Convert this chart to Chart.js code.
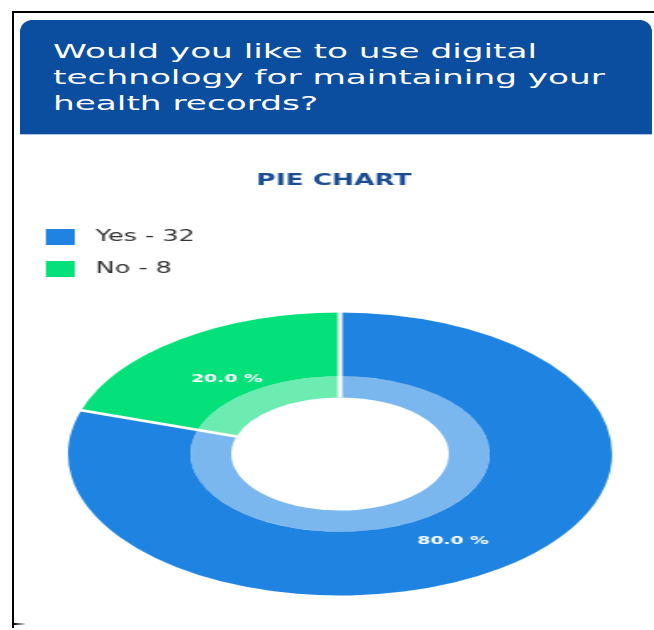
<!DOCTYPE html>
<html>
<head>
<meta charset="utf-8">
<script src="https://cdn.jsdelivr.net/npm/chart.js@4.4.1/dist/chart.umd.min.js"></script>
<style>
  html, body { margin: 0; padding: 0; background: #fff; }
  body { width: 654px; height: 630px; position: relative; overflow: hidden; font-family: "DejaVu Sans", sans-serif; }
  .frame { position: absolute; left: 12px; top: 11px; width: 700px; height: 615px; border-top: 2px solid #000; border-left: 2px solid #000; z-index: 3; }
  .hook { position: absolute; left: 14px; top: 623px; width: 12px; height: 2px; background: linear-gradient(to right, #000, rgba(0,0,0,0)); z-index: 3; }
  .header { position: absolute; left: 20px; top: 20px; width: 632px; height: 114px; background: #0b4d9f; border-radius: 12px 12px 0 0; border-bottom: 1px solid #a9c6e6; }
  .header .txt { position: absolute; left: 33px; top: 18px; color: #fff; font-size: 20px; line-height: 26px; white-space: nowrap; transform: scaleX(1.715); transform-origin: 0 0; }
  .stage { position: absolute; left: 0; top: 140px; width: 385px; height: 490px; transform: scaleX(1.7); transform-origin: 0 0; }
</style>
</head>
<body>
<div class="frame"></div>
<div class="hook"></div>
<div class="header"><div class="txt">Would you like to use digital<br>technology for maintaining your<br>health records?</div></div>
<div class="stage"><canvas id="pie" width="385" height="490"></canvas></div>
<script>
const categories = ['Yes', 'No'];
const counts = [32, 8];
const outerColors = ['#1f83e1', '#04e07a'];
const innerColors = ['#7ab7ef', '#6decb2'];
const chartTitle = 'PIE CHART';

const total = counts.reduce((a, b) => a + b, 0);
const pct = counts.map(v => (v / total * 100).toFixed(1) + ' %');

// the screenshot is stretched sideways, so the ring is drawn as an ellipse
const squash = {
    id: 'squash',
    beforeDatasetsDraw(chart, args, opts) {
        const arc = chart.getDatasetMeta(0).data[0];
        const ctx = chart.ctx;
        ctx.save();
        ctx.translate(opts.cx, opts.cy);
        ctx.scale(opts.kx, 1);
        ctx.translate(-arc.x, -arc.y);
    },
    afterDatasetsDraw(chart, args, opts) {
        const ctx = chart.ctx;
        const outer = chart.getDatasetMeta(0).data;
        const inner = chart.getDatasetMeta(1).data;
        // white gaps between the slices, through both rings
        ctx.strokeStyle = '#fff';
        ctx.lineWidth = opts.gap;
        outer.forEach(a => {
            const r0 = inner[0].innerRadius;
            const r1 = a.outerRadius + 1;
            ctx.beginPath();
            ctx.moveTo(a.x + Math.cos(a.startAngle) * r0, a.y + Math.sin(a.startAngle) * r0);
            ctx.lineTo(a.x + Math.cos(a.startAngle) * r1, a.y + Math.sin(a.startAngle) * r1);
            ctx.stroke();
        });
        ctx.restore();

        ctx.save();
        ctx.font = 'bold 11px "DejaVu Sans"';
        ctx.fillStyle = '#fff';
        ctx.textAlign = 'center';
        ctx.textBaseline = 'middle';
        outer.forEach((a, i) => {
            const mid = (a.startAngle + a.endAngle) / 2;
            const r = a.innerRadius + (a.outerRadius - a.innerRadius) * 0.35;
            ctx.fillText(pct[i], opts.cx + Math.cos(mid) * r * opts.kx, opts.cy + Math.sin(mid) * r + opts.labelDy);
        });
        ctx.restore();
    }
};

new Chart(document.getElementById('pie'), {
    type: 'doughnut',
    data: {
        labels: categories,
        datasets: [
            { data: counts, backgroundColor: outerColors, weight: 3, borderWidth: 0, clip: false },
            { data: counts, backgroundColor: innerColors, weight: 1, borderWidth: 0, clip: false }
        ]
    },
    options: {
        responsive: false,
        animation: false,
        radius: 141.5,
        cutout: '40%',
        layout: { padding: { left: 11, right: 3, top: 0, bottom: 0 } },
        plugins: {
            title: {
                display: true,
                text: chartTitle,
                color: '#1a4c94',
                font: { family: 'DejaVu Sans', size: 15.5, weight: 'bold' },
                padding: { top: 31.7, bottom: 22.7 }
            },
            legend: {
                position: 'left',
                align: 'start',
                fullSize: false,
                labels: {
                    boxWidth: 17,
                    boxHeight: 16,
                    padding: 16,
                    color: '#333',
                    font: { family: 'DejaVu Sans', size: 15 },
                    generateLabels(chart) {
                        const items = Chart.overrides.doughnut.plugins.legend.labels.generateLabels(chart);
                        items.forEach((it, i) => { it.text = ' ' + categories[i] + ' - ' + counts[i]; });
                        return items;
                    }
                }
            },
            tooltip: { enabled: false },
            squash: { cx: 200, cy: 314, kx: 1.131, gap: 2.5, labelDy: 6 }
        }
    },
    plugins: [squash]
});
</script>
</body>
</html>
